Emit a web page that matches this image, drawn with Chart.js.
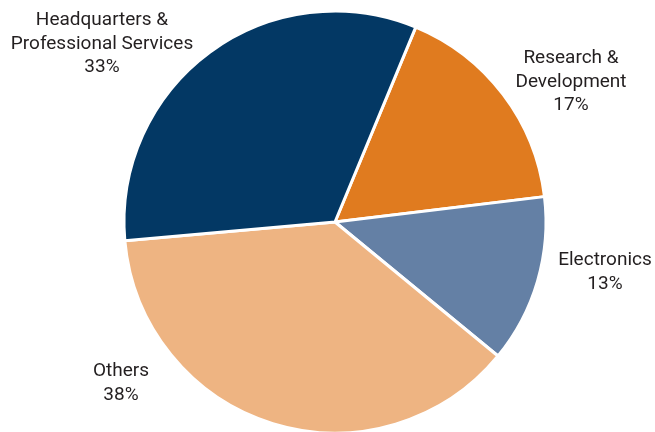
<!DOCTYPE html>
<html>
<head>
<meta charset="utf-8">
<script src="https://cdn.jsdelivr.net/npm/chart.js@4/dist/chart.umd.min.js"></script>
<style>
  html, body { margin: 0; padding: 0; background: #ffffff; }
  #wrap { width: 655px; height: 432px; position: relative; }
</style>
</head>
<body>
<div id="wrap"><canvas id="pie"></canvas></div>
<script>
// Share of spend by segment (percent), clockwise from the R&D slice
const segments = ['Research &\nDevelopment', 'Electronics', 'Others', 'Headquarters &\nProfessional Services'];
const shares = [17, 13, 38, 33];
const sliceColors = ['#E07B1F', '#6480A5', '#EEB482', '#033864'];

// Where each slice's caption sits, relative to the pie centre
const captionOffsets = [[236, -140], [270, 50], [-214, 161], [-233, -178]];

const captionPlugin = {
  id: 'sliceCaptions',
  afterDatasetsDraw(chart) {
    const ctx = chart.ctx;
    const meta = chart.getDatasetMeta(0);
    const total = shares.reduce((a, b) => a + b, 0);
    ctx.save();
    ctx.font = '19px Roboto, "DejaVu Sans", sans-serif';
    ctx.fillStyle = '#231F20';
    ctx.textAlign = 'center';
    ctx.textBaseline = 'middle';
    const lineH = 23.5;
    meta.data.forEach((arc, i) => {
      const lines = segments[i].split('\n');
      lines.push(Math.round(shares[i] / total * 100) + '%');
      const cx = arc.x + captionOffsets[i][0];
      const cy = arc.y + captionOffsets[i][1];
      const top = cy - (lines.length - 1) * lineH / 2;
      lines.forEach((t, j) => ctx.fillText(t, cx, top + j * lineH));
    });
    ctx.restore();
  }
};

new Chart(document.getElementById('pie'), {
  type: 'pie',
  data: {
    labels: segments,
    datasets: [{
      data: shares,
      backgroundColor: sliceColors,
      borderColor: '#ffffff',
      borderWidth: 3,
      hoverOffset: 0
    }]
  },
  options: {
    responsive: true,
    maintainAspectRatio: false,
    animation: false,
    rotation: 22.5,
    radius: 211,
    layout: { padding: { left: 15, right: 0, top: 12, bottom: 0 } },
    plugins: {
      legend: { display: false },
      tooltip: { enabled: false }
    }
  },
  plugins: [captionPlugin]
});
</script>
</body>
</html>
